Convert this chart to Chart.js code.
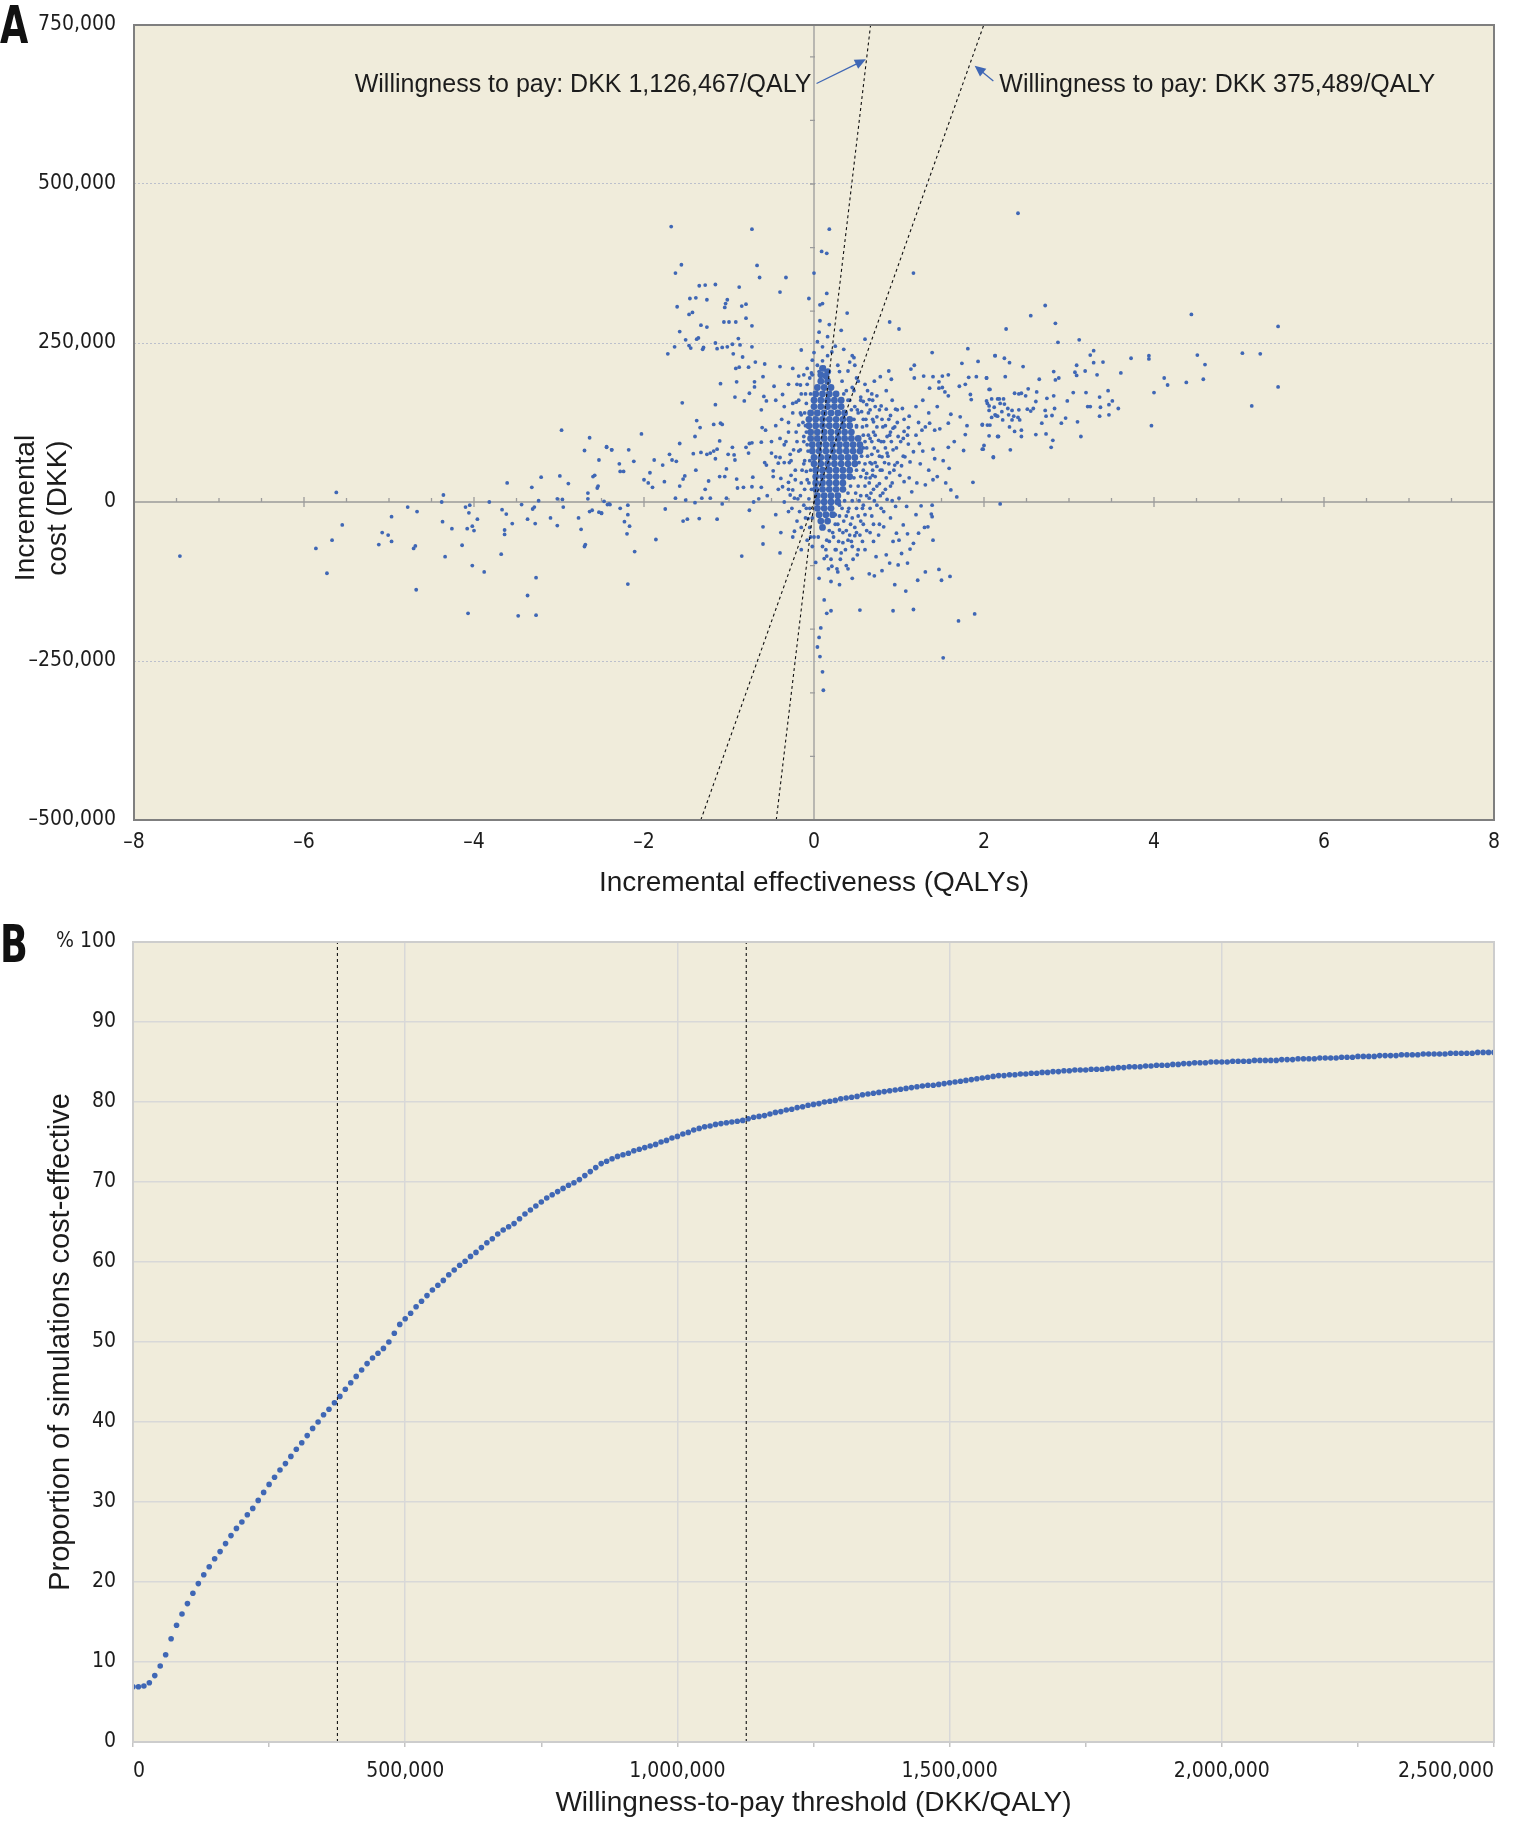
<!DOCTYPE html>
<html>
<head>
<meta charset="utf-8">
<script src="https://cdn.jsdelivr.net/npm/chart.js@4.4.1/dist/chart.umd.min.js"></script>
<style>
  body { margin: 0; background: #fff; }
  #page { position: relative; width: 1515px; height: 1822px; }
  .panel { position: absolute; left: 0; width: 1515px; }
  .tag { position: absolute; left: 0; font-family: 'DejaVu Sans Condensed', 'DejaVu Sans', sans-serif; font-weight: bold; font-stretch: condensed;
         font-size: 52px; line-height: 1; color: #111; transform: scaleX(0.78); transform-origin: 0 0; }
</style>
</head>
<body>
<div id="page">
  <div class="panel" style="top:0;height:905px"><canvas id="planeChart" width="1515" height="905"></canvas></div>
  <div class="panel" style="top:905px;height:917px"><canvas id="ceacChart" width="1515" height="917"></canvas></div>
  <div class="tag" style="top:-1px">A</div>
  <div class="tag" style="top:918px">B</div>
</div>
<script>
// willingness-to-pay thresholds, DKK per QALY
const wtpLow = 375489;
const wtpHigh = 1126467;

// panel A: simulations as [incremental QALYs, incremental cost in 1,000 DKK]
const simulations = [
  [-7.46,-85],[-5.86,-73],[-5.73,-112],[-5.67,-60],[-5.62,15],[-5.55,-36],[-5.12,-67],[-5.08,-48],[-5.01,-52],[-4.97,-62],
  [-4.97,-23],[-4.78,-8],[-4.67,-15],[-4.71,-73],[-4.69,-69],[-4.68,-138],[-4.38,0],[-4.36,11],[-4.37,-31],[-4.34,-86],
  [-4.26,-42],[-4.14,-68],[-4.10,-8],[-4.05,-5],[-4.06,-17],[-4.08,-42],[-4.02,-38],[-4.00,-45],[-3.96,-27],[-4.02,-100],
  [-4.07,-175],[-3.88,-110],[-3.82,0],[-3.67,-12],[-3.62,-19],[-3.64,-44],[-3.64,-51],[-3.61,30],[-3.68,-82],[-3.55,-34],
  [-3.44,-4],[-3.37,-27],[-3.32,23],[-3.31,-11],[-3.29,-8],[-3.28,-34],[-3.24,2],[-3.21,39],[-3.27,-119],[-3.37,-147],
  [-3.48,-179],[-3.27,-178],[-3.10,-25],[-3.02,-37],[-3.02,5],[-2.99,41],[-2.96,4],[-2.95,-8],[-2.97,113],[-2.89,29],
  [-2.77,-25],[-2.74,-43],[-2.70,81],[-2.64,101],[-2.69,-67],[-2.70,-70],[-2.66,5],[-2.66,14],[-2.64,-15],[-2.61,-13],
  [-2.60,40],[-2.58,42],[-2.55,22],[-2.54,25],[-2.53,66],[-2.53,-16],[-2.50,-17],[-2.47,1],[-2.44,86],[-2.43,-4],
  [-2.40,-4],[-2.38,82],
  [-1.56,373],[-1.63,360],[-0.67,372],[-0.64,353],[-0.33,353],[-0.40,330],[-1.35,340],[-1.28,341],[-1.16,342],[-0.88,338],
  [-1.46,320],[-1.39,321],[-1.26,318],[-1.61,307],[-1.04,312],[-1.05,306],[-1.02,318],[-0.85,308],[-0.80,311],[-1.47,295],
  [-1.43,298],[-1.33,278],[-1.26,275],[-1.06,283],[-1.00,283],[-0.92,283],[-0.80,289],[-0.73,277],[-1.58,268],[-1.51,255],
  [-1.38,256],[-1.36,258],[-1.64,244],[-1.72,233],[-1.47,246],[-1.45,242],[-1.31,240],[-1.30,243],[-1.16,250],[-1.14,241],
  [-1.08,243],[-1.02,244],[-0.96,248],[-0.89,257],[-0.87,247],[-0.73,244],[-0.95,233],[-0.84,228],[-0.88,212],[-0.92,210],
  [-0.77,212],[-0.69,220],[-0.58,217],[-0.91,189],[-1.10,186],[-0.70,189],[-0.70,181],[-0.76,171],[-0.60,197],[-0.59,166],
  [-0.56,159],[-0.47,182],[-0.37,169],[-0.40,213],[-0.18,198],[-0.15,239],[-0.16,184],[-0.21,157],[-0.93,165],[-0.82,159],
  [-1.55,156],[-1.16,153],[-1.10,124],[-1.08,122],[-1.38,128],[-1.34,117],[-1.18,122],[-0.62,145],[-0.61,117],[-0.57,113],
  [-2.03,107],[-2.44,87],[-2.38,82],[-2.18,82],[-2.29,60],[-2.28,48],[-2.24,48],[-2.12,64],[-1.88,66],[-1.78,58],
  [-1.93,46],[-2.00,35],[-1.95,30],[-1.90,23],[-1.76,32],[-1.70,75],[-1.67,66],[-1.62,64],[-1.58,92],[-1.58,25],
  [-1.54,36],[-1.52,41],[-1.42,76],[-1.40,103],[-1.39,50],[-1.33,78],[-1.26,75],[-1.22,77],[-1.28,20],[-1.24,33],
  [-1.18,80],[-1.16,68],[-1.14,83],[-1.11,96],[-1.11,40],[-1.05,40],[-1.03,52],[-1.01,75],[-0.96,86],[-0.94,74],
  [-0.93,66],[-0.91,36],[-0.90,22],[-0.83,23],[-0.80,86],[-0.77,77],[-0.76,92],[-0.73,93],[-0.72,39],[-0.73,24],
  [-0.62,94],[-0.62,23],[-0.58,62],[-0.56,58],[-0.50,77],[-0.48,49],[-0.45,71],[-0.42,61],[-0.40,70],[-0.39,37],
  [-0.35,62],[-0.37,24],[-0.30,31],[-0.29,62],[-0.27,42],[-0.25,19],[-0.23,6],[-0.28,11],[-0.24,82],[-0.18,121],
  [-0.16,82],[-0.15,137],[-0.12,103],[-0.11,65],[-0.09,48],
  [-2.50,-18],[-2.41,-3],[-2.28,-10],[-2.19,-5],[-2.19,-20],[-2.23,-31],[-2.17,-38],[-2.20,-50],[-2.11,-78],[-2.19,-129],
  [-1.86,-59],[-1.75,-11],[-1.63,6],[-1.51,3],[-1.54,-30],[-1.49,-27],[-1.35,-26],[-1.40,-1],[-1.32,6],[-1.22,6],
  [-1.14,-27],[-1.08,-3],[-1.03,6],[-0.85,-85],[-0.76,-13],[-0.71,0],[-0.60,-66],[-0.60,-39],[-0.39,-48],[-0.23,-46],
  [-0.17,-15],[-0.09,-10],[-0.07,-26],
  [0.09,394],[0.00,360],[-0.06,320],[0.15,328],[0.10,312],[0.07,310],[0.39,297],[0.07,285],[0.18,279],[0.32,270],
  [0.06,267],[0.16,260],[0.04,252],[0.10,244],[0.21,236],[0.89,283],[1.00,272],[1.17,360],[0.60,256],[0.47,227],
  [0.48,215],[0.40,206],[0.28,215],[0.30,205],[-0.02,223],[-0.03,203],
  [1.81,241],[1.39,235],[2.13,230],[1.93,221],[1.74,218],[1.18,215],[1.14,209],[0.88,206],[0.78,197],[0.91,193],
  [1.29,198],[1.40,197],[1.58,200],[1.51,198],[1.82,196],[1.91,197],[2.03,195],[1.71,182],[1.78,185],[1.47,189],
  [1.18,195],[1.36,179],[1.47,179],[1.51,180],[1.54,173],[1.58,167],[1.84,169],[1.85,161],[2.06,177],[2.16,162],
  [2.04,155],[2.14,136],[2.17,103],[2.07,121],[1.98,121],[1.80,120],[1.78,106],[1.72,134],[1.61,138],[1.58,124],
  [1.48,115],[1.42,113],[1.36,124],[1.31,118],[1.27,113],[1.23,125],[1.20,105],[1.11,117],[1.06,111],[1.04,147],
  [0.96,146],[0.90,136],[0.85,146],[0.79,151],[0.74,167],[0.68,170],[0.65,161],[0.62,153],[0.58,158],[0.56,142],
  [0.74,134],[0.70,126],[0.93,116],[0.99,103],[0.86,103],[0.76,97],[1.11,91],[1.24,92],[1.40,83],[1.58,86],
  [1.65,95],[1.76,81],[1.99,83],[2.11,71],[1.87,31],[1.68,8],[1.61,19],[1.42,68],[1.52,65],[1.59,53],
  [1.40,35],[1.31,27],[1.28,80],[1.17,79],[1.13,63],[1.07,71],[1.03,57],[0.95,58],[0.93,82],[0.86,77],
  [0.80,71],[0.74,56],[0.69,42],[0.77,29],[0.89,46],[1.01,42],[1.06,32],[1.21,30],[1.15,16],[1.00,6],
  [0.86,4],[0.65,6],
  [0.96,-7],[1.09,-7],[1.26,-6],[1.39,-5],[1.39,-23],[1.34,-39],[1.40,-60],[1.38,-19],[1.60,-117],[1.50,-123],
  [1.47,-106],[1.31,-110],[1.22,-123],[1.23,-49],[1.17,-65],[1.13,-74],[1.10,-96],[1.03,-81],[0.99,-99],[0.89,-96],
  [0.85,-83],[0.93,-62],[0.97,-49],[1.05,-36],[0.82,-39],[0.76,-52],[0.70,-62],[0.73,-86],[0.80,-108],[0.65,-113],
  [0.71,-116],[0.51,-83],[0.54,-52],[0.48,-53],[0.42,-52],[0.34,-64],[0.30,-44],[0.23,-55],[0.21,-101],[0.15,-85],
  [0.12,-89],[0.10,-70],[0.06,-120],[0.12,-154],[0.20,-171],[0.15,-175],[0.08,-198],[0.06,-213],[0.93,-171],[1.17,-169],
  [1.70,-187],[1.89,-176],
  [0.18,429],[0.15,391],[-0.73,429],[-1.68,433],[0.11,-296],[0.10,-267],[0.07,-243],[1.52,-245],[0.54,-170],[0.04,-228],
  [-0.25,140],[-0.30,110],[-0.20,95],[-0.28,75],[-0.22,50],[-0.15,30],[-0.30,20],[-0.12,-5],[-0.20,-30],[-0.10,170],
  [-0.05,195],[-0.18,160],[0.45,180],[0.50,195],[0.55,165],[0.60,185],[0.42,220],[0.52,140],[0.62,120],[0.66,100],
  [0.60,60],[0.65,30],[0.55,10],[0.50,-10],[0.45,-25],[0.60,-20],[0.35,-30],[0.38,-45],[0.25,-20],[0.30,-5],
  [0.58,85],[0.62,45],[0.45,230],[0.35,240],[0.25,245],[0.00,235],[-0.08,210],[0.70,110],[0.68,75],[0.55,40],
  [0.40,-15],[0.28,-35],[0.18,-45],[0.05,-55],[0.15,-60],[0.25,-75],[-0.05,-40],[-0.02,-70],[0.02,-95],
  [0.35,170],[0.42,160],[0.48,150],[0.58,130],[0.50,120],[0.64,140],[0.72,150],[0.80,130],[0.84,120],[0.90,110],
  [0.98,125],[0.82,95],[0.75,80],[0.68,60],[0.72,40],[0.80,50],[0.88,60],[0.92,30],[0.84,20],[0.78,10],
  [0.70,20],[0.62,10],[0.58,-5],[0.66,-10],[0.74,-5],[0.82,-15],[0.90,-25],[0.70,-35],[0.62,-45],[0.55,-30],
  [0.48,-40],[0.40,-60],[0.32,-80],[0.45,-70],[0.60,-75],[0.38,-100],[0.28,-110],[0.20,-125],[0.30,-130],[0.45,-120],
  [1.05,100],[1.12,135],[1.20,150],[1.28,160],[1.35,140],[1.45,150],[1.25,60],[1.35,50],[1.45,40],[1.55,30],
  [1.20,-20],[1.30,-40],[1.10,-50],[1.00,-60],[0.95,-130],[1.08,-140],
  [-0.35,150],[-0.45,120],[-0.40,100],[-0.35,90],[-0.48,40],[-0.42,20],[-0.35,0],[-0.30,-15],[-0.45,-20],[-0.55,10],
  [-0.65,5],[-0.50,95],[-0.38,130],[-0.30,185],[-0.25,210],[-0.45,160],[-0.10,120],[-0.08,90],[-0.12,60],[-0.06,30],
  [-0.16,10],[-0.08,-60],[-0.15,-75],[-0.25,-55],[-0.40,-80],
  [0.06,205],[0.12,212],[0.18,205],[0.10,222],[0.16,230],[0.04,215],
  [0.33,190],[0.52,190],[0.71,190],[0.38,175],[0.47,175],[0.63,175],[0.85,175],[0.40,160],[0.55,160],[0.69,160],
  [0.92,160],[0.44,145],[0.51,145],[0.66,145],[0.77,145],[0.98,145],[0.47,130],[0.61,130],[0.69,130],[0.88,130],
  [1.06,130],[0.50,118],[0.57,118],[0.74,118],[0.81,118],[0.95,118],[0.58,105],[0.64,105],[0.72,105],[0.89,105],
  [1.10,105],[0.60,95],[0.68,95],[0.79,95],[0.91,95],[1.02,95],[0.62,85],[0.71,85],[0.84,85],[0.97,85],
  [0.56,72],[0.63,72],[0.77,72],[0.87,72],[1.05,72],[0.53,62],[0.66,62],[0.72,62],[0.83,62],[0.98,62],
  [0.50,50],[0.58,50],[0.69,50],[0.78,50],[0.94,50],[0.47,38],[0.61,38],[0.66,38],[0.85,38],[1.12,38],
  [0.43,25],[0.52,25],[0.60,25],[0.74,25],[0.90,25],[0.40,14],[0.49,14],[0.67,14],[0.81,14],[0.36,2],
  [0.45,2],[0.53,2],[0.71,2],[0.92,2],[0.33,-10],[0.41,-10],[0.57,-10],[0.79,-10],[0.30,-22],[0.38,-22],
  [0.52,-22],[0.68,-22],[0.25,-35],[0.43,-35],[0.58,-35],[0.77,-35],[0.22,-48],[0.34,-48],[0.50,-48],[0.66,-48],
  [0.18,-62],[0.29,-62],[0.44,-62],[0.57,-62],[0.14,-75],[0.26,-75],[0.37,-75],[0.52,-75],[0.20,-90],[0.31,-90],
  [0.46,-90],[0.17,-105],[0.27,-105],[0.40,-105],
  [-0.12,200],[-0.02,200],[-0.20,185],[-0.08,185],[-0.15,170],[-0.04,170],[-0.25,155],[-0.09,155],[-0.16,140],[-0.11,140],
  [-0.30,125],[-0.13,125],[-0.21,110],[-0.09,110],[-0.33,95],[-0.12,95],[-0.18,80],[-0.07,80],[-0.27,65],[-0.05,65],
  [-0.14,50],[-0.04,50],[-0.22,35],[-0.08,35],[-0.11,20],[-0.03,20],[-0.19,5],[-0.06,5],[-0.05,-10],[-0.26,-10],
  [-0.10,-25],[-0.02,-25],[-0.15,-40],[0.00,-55],[-0.04,-55],
  [2.40,454],[2.72,309],[2.55,293],[2.84,281],[2.26,272],[2.87,251],[3.12,255],[4.44,295],[5.46,276],[2.13,230],
  [2.24,226],[2.30,219],[2.03,195],[2.25,197],[2.46,213],[2.07,177],[2.65,193],[2.82,205],[2.84,192],[2.88,195],
  [3.09,215],[3.07,204],[3.09,199],[3.19,206],[3.25,231],[3.29,238],[3.29,219],[3.40,220],[3.33,200],[3.61,203],
  [3.73,226],[3.94,230],[3.94,225],[4.12,195],[4.16,184],[4.38,188],[4.51,231],[4.60,216],[4.58,193],[5.04,234],
  [5.25,233],[5.46,181],[5.15,151],[4.00,172],[3.97,120],[3.58,147],[3.47,137],[3.51,159],[3.47,153],[3.46,175],
  [3.36,165],[3.37,149],[3.36,135],[3.25,150],[3.22,150],[3.20,172],[3.14,103],[3.10,126],[3.05,172],[2.98,159],
  [2.96,132],[2.91,124],[2.82,167],[2.83,147],[2.80,136],[2.81,97],[2.79,86],[2.73,135],[2.73,107],[2.74,163],
  [2.72,144],[2.68,124],[2.62,173],[2.61,106],[2.61,158],[2.58,147],[2.55,143],[2.51,146],[2.52,178],[2.49,167],
  [2.44,171],[2.44,113],[2.44,103],[2.41,170],[2.41,145],[2.40,133],[2.42,129],[2.36,111],[2.36,171],[2.35,135],
  [2.33,144],[2.33,129],[2.31,82],[2.30,118],[2.29,137],[2.28,147],[2.24,154],[2.23,162],[2.22,129],[2.21,142],
  [2.19,155],[2.18,162],[2.16,135],[2.16,103],[2.13,137],[2.12,149],[2.11,70],[2.09,133],[2.09,162],[2.06,144],
  [2.06,151],[2.06,104],[2.04,121],[2.03,159],[2.00,89],[1.98,83],[1.98,122],[2.19,-3]
];

// the solid blue centre of the cloud, read as a coarse set of points
const denseCore = [
  [0.10,210],[0.16,205],
  [0.08,200],[0.14,198],
  [0.08,190],[0.16,190],
  [0.04,180],[0.12,180],[0.20,180],
  [0.02,170],[0.10,170],[0.18,170],[0.26,170],
  [0.00,160],[0.08,160],[0.16,160],[0.24,160],[0.32,160],
  [0.00,150],[0.08,150],[0.16,150],[0.24,150],[0.32,150],
  [-0.04,140],[0.04,140],[0.12,140],[0.20,140],[0.28,140],[0.36,140],
  [-0.06,130],[0.02,130],[0.10,130],[0.18,130],[0.26,130],[0.34,130],[0.42,130],
  [-0.06,120],[0.02,120],[0.10,120],[0.18,120],[0.26,120],[0.34,120],[0.42,120],
  [-0.04,110],[0.04,110],[0.12,110],[0.20,110],[0.28,110],[0.36,110],[0.44,110],
  [-0.04,100],[0.04,100],[0.12,100],[0.20,100],[0.28,100],[0.36,100],[0.44,100],[0.52,100],
  [-0.02,90],[0.06,90],[0.14,90],[0.22,90],[0.30,90],[0.38,90],[0.46,90],[0.54,90],
  [-0.02,80],[0.06,80],[0.14,80],[0.22,80],[0.30,80],[0.38,80],[0.46,80],[0.54,80],
  [0.00,70],[0.08,70],[0.16,70],[0.24,70],[0.32,70],[0.40,70],[0.48,70],
  [0.00,60],[0.08,60],[0.16,60],[0.24,60],[0.32,60],[0.40,60],[0.48,60],
  [0.02,50],[0.10,50],[0.18,50],[0.26,50],[0.34,50],[0.42,50],
  [0.02,40],[0.10,40],[0.18,40],[0.26,40],[0.34,40],[0.42,40],
  [0.02,30],[0.10,30],[0.18,30],[0.26,30],[0.34,30],
  [0.02,20],[0.10,20],[0.18,20],[0.26,20],[0.34,20],
  [0.04,10],[0.12,10],[0.20,10],[0.28,10],
  [0.04,0],[0.12,0],[0.20,0],[0.28,0],
  [0.04,-10],[0.12,-10],[0.20,-10],
  [0.06,-20],[0.14,-20],[0.22,-20],
  [0.08,-30],[0.16,-30],
  [0.10,-40]
];

const effectTicks = [-8, -6, -4, -2, 0, 2, 4, 6, 8];
const costTicks = [-500000, -250000, 0, 250000, 500000, 750000];

// panel B: acceptability curve, one value per 10,000 DKK from 0 to 2,500,000
const thresholdStep = 10000;
const probCostEffective = [
  6.9, 6.9, 7.0, 7.4, 8.3, 9.5, 10.9, 12.9, 14.6, 16.0,
  17.3, 18.6, 19.8, 20.9, 21.9, 22.9, 23.8, 24.8, 25.8, 26.7,
  27.5, 28.4, 29.2, 30.2, 31.2, 32.2, 33.1, 34.0, 34.8, 35.7,
  36.6, 37.4, 38.3, 39.2, 40.0, 40.9, 41.6, 42.4, 43.2, 44.1,
  44.9, 45.7, 46.5, 47.3, 48.0, 48.6, 49.2, 50.0, 51.1, 52.2,
  52.9, 53.6, 54.4, 55.1, 55.8, 56.5, 57.1, 57.7, 58.4, 59.0,
  59.6, 60.1, 60.7, 61.2, 61.8, 62.4, 62.9, 63.5, 64.0, 64.4,
  64.8, 65.4, 66.0, 66.5, 67.0, 67.5, 68.0, 68.4, 68.8, 69.2,
  69.6, 69.9, 70.3, 70.8, 71.3, 71.8, 72.3, 72.6, 72.9, 73.2,
  73.4, 73.6, 73.9, 74.1, 74.3, 74.5, 74.7, 75.0, 75.2, 75.5,
  75.7, 76.0, 76.2, 76.5, 76.7, 76.9, 77.0, 77.2, 77.3, 77.4,
  77.5, 77.6, 77.7, 77.9, 78.1, 78.2, 78.3, 78.5, 78.7, 78.8,
  79.0, 79.1, 79.3, 79.4, 79.6, 79.7, 79.8, 80.0, 80.1, 80.2,
  80.4, 80.5, 80.6, 80.7, 80.9, 81.0, 81.1, 81.2, 81.3, 81.4,
  81.5, 81.6, 81.7, 81.8, 81.9, 82.0, 82.1, 82.1, 82.2, 82.3,
  82.4, 82.5, 82.6, 82.7, 82.8, 82.9, 83.0, 83.1, 83.2, 83.3,
  83.3, 83.4, 83.4, 83.5, 83.5, 83.6, 83.6, 83.7, 83.7, 83.8,
  83.8, 83.9, 83.9, 84.0, 84.0, 84.0, 84.1, 84.1, 84.1, 84.2,
  84.2, 84.3, 84.3, 84.4, 84.4, 84.4, 84.5, 84.5, 84.6, 84.6,
  84.6, 84.7, 84.7, 84.8, 84.8, 84.9, 84.9, 84.9, 85.0, 85.0,
  85.0, 85.0, 85.1, 85.1, 85.1, 85.1, 85.2, 85.2, 85.2, 85.2,
  85.2, 85.3, 85.3, 85.3, 85.4, 85.4, 85.4, 85.4, 85.5, 85.5,
  85.5, 85.5, 85.6, 85.6, 85.6, 85.7, 85.7, 85.7, 85.7, 85.8,
  85.8, 85.8, 85.8, 85.9, 85.9, 85.9, 85.9, 86.0, 86.0, 86.0,
  86.0, 86.0, 86.1, 86.1, 86.1, 86.1, 86.1, 86.2, 86.2, 86.2, 86.2
];

const thresholdTicks = [0, 500000, 1000000, 1500000, 2000000, 2500000];
const thresholdMinorTicks = [250000, 750000, 1250000, 1750000, 2250000];
const percentTicks = [0, 10, 20, 30, 40, 50, 60, 70, 80, 90, 100];

const cream = '#f0ecdb';
const dotBlue = '#3f67b5';
const ink = '#1c1c1c';
const narrow = "'DejaVu Sans Condensed', 'Liberation Sans Narrow', 'DejaVu Sans', sans-serif";
const plain = "'Liberation Sans', Arial, sans-serif";
const tickFont = { family: narrow, size: 21 };

const fmt = v => (v < 0 ? '\u2013' : '') + Math.abs(v).toLocaleString('en-US');

// ---------- panel A ----------
const notes = [
  { text: 'Willingness to pay: DKK 1,126,467/QALY', at: [-0.03, 656000], align: 'right', from: [0.03, 658000], to: [0.61, 696000] },
  { text: 'Willingness to pay: DKK 375,489/QALY', at: [2.18, 656000], align: 'left', from: [2.11, 662000], to: [1.89, 686000] }
];

const planeDecor = {
  id: 'planeDecor',
  beforeDraw(chart) {
    const { ctx, chartArea: a } = chart;
    ctx.save();
    ctx.fillStyle = cream;
    ctx.fillRect(a.left, a.top, a.width, a.height);
    ctx.restore();
  },
  beforeDatasetsDraw(chart) {
    const { ctx, chartArea: a, scales: { x, y } } = chart;
    const x0 = x.getPixelForValue(0), y0 = y.getPixelForValue(0);
    ctx.save();
    ctx.strokeStyle = '#9b9b9b';
    ctx.lineWidth = 1.3;
    ctx.beginPath();
    ctx.moveTo(a.left, y0); ctx.lineTo(a.right, y0);
    ctx.moveTo(x0, a.top); ctx.lineTo(x0, a.bottom);
    for (let v = -7.5; v < 8; v += 0.5) {
      const px = x.getPixelForValue(v);
      if (v % 2 === 0) { ctx.moveTo(px, y0 - 5); ctx.lineTo(px, y0 + 5); }
      else { ctx.moveTo(px, y0 - 4); ctx.lineTo(px, y0); }
    }
    for (let v = -400000; v < 750000; v += 100000) {
      const py = y.getPixelForValue(v);
      ctx.moveTo(x0 - 4, py); ctx.lineTo(x0 + 1, py);
    }
    ctx.stroke();
    ctx.restore();
  },
  afterDatasetsDraw(chart) {
    const { ctx, chartArea: a, scales: { x, y } } = chart;
    ctx.save();
    ctx.strokeStyle = '#7f7f7f';
    ctx.lineWidth = 2;
    ctx.strokeRect(a.left, a.top, a.width, a.height);

    ctx.font = '25px ' + plain;
    ctx.textBaseline = 'middle';
    notes.forEach(n => {
      ctx.fillStyle = ink;
      ctx.textAlign = n.align;
      ctx.fillText(n.text, x.getPixelForValue(n.at[0]), y.getPixelForValue(n.at[1]));
      const sx = x.getPixelForValue(n.from[0]), sy = y.getPixelForValue(n.from[1]);
      const ex = x.getPixelForValue(n.to[0]), ey = y.getPixelForValue(n.to[1]);
      const ang = Math.atan2(ey - sy, ex - sx);
      const c = Math.cos(ang), s = Math.sin(ang);
      ctx.strokeStyle = dotBlue;
      ctx.fillStyle = dotBlue;
      ctx.lineWidth = 1.3;
      ctx.beginPath();
      ctx.moveTo(sx, sy); ctx.lineTo(ex - 8 * c, ey - 8 * s);
      ctx.stroke();
      ctx.beginPath();
      ctx.moveTo(ex, ey);
      ctx.lineTo(ex - 11 * c + 5 * s, ey - 11 * s - 5 * c);
      ctx.lineTo(ex - 11 * c - 5 * s, ey - 11 * s + 5 * c);
      ctx.closePath();
      ctx.fill();
    });

    // y axis title, two lines, sits a little below the axis centre
    ctx.translate(26, 508);
    ctx.rotate(-Math.PI / 2);
    ctx.font = '28px ' + plain;
    ctx.textAlign = 'center';
    ctx.fillStyle = ink;
    ctx.fillText('Incremental', 0, 0);
    ctx.fillText('cost (DKK)', 0, 32);
    ctx.restore();
  }
};

const wtpLine = wtp => ({
  data: [{ x: -500000 / wtp, y: -500000 }, { x: 750000 / wtp, y: 750000 }],
  showLine: true, borderColor: '#111', borderWidth: 1.1, borderDash: [3, 3],
  pointRadius: 0, order: 0
});

new Chart(document.getElementById('planeChart'), {
  type: 'scatter',
  data: {
    datasets: [
      wtpLine(wtpHigh),
      wtpLine(wtpLow),
      {
        data: simulations.map(p => ({ x: p[0], y: p[1] * 1000 })),
        backgroundColor: dotBlue, borderWidth: 0, pointRadius: 1.9, order: 2
      },
      {
        data: denseCore.map(p => ({ x: p[0], y: p[1] * 1000 })),
        backgroundColor: dotBlue, borderWidth: 0, pointRadius: 3.4, order: 1
      }
    ]
  },
  options: {
    responsive: false,
    animation: false,
    events: [],
    layout: { padding: { top: 25, right: 21, left: 0, bottom: 0 } },
    plugins: { legend: { display: false }, tooltip: { enabled: false } },
    scales: {
      x: {
        type: 'linear', min: -8, max: 8,
        afterBuildTicks: s => { s.ticks = effectTicks.map(v => ({ value: v })); },
        afterFit: s => { s.height = 85; s.paddingLeft = 0; s.paddingRight = 0; },
        grid: { display: false },
        border: { display: false },
        ticks: { font: tickFont, color: ink, padding: 2, maxRotation: 0, autoSkip: false, callback: v => fmt(v) },
        title: { display: true, text: 'Incremental effectiveness (QALYs)', color: ink,
                 font: { family: plain, size: 28, lineHeight: 1.14 }, padding: { top: 0, bottom: 6 } }
      },
      y: {
        type: 'linear', min: -500000, max: 750000,
        afterBuildTicks: s => { s.ticks = costTicks.map(v => ({ value: v })); },
        afterFit: s => { s.width = 134; s.paddingTop = 0; s.paddingBottom = 0; },
        grid: {
          drawTicks: false, lineWidth: 1,
          color: c => (c.tick && [250000, 500000, -250000].includes(c.tick.value)) ? '#bcc0cc' : 'transparent'
        },
        border: { display: false, dash: [2, 2] },
        ticks: { font: tickFont, color: ink, padding: 18, autoSkip: false, callback: v => fmt(v) }
      }
    }
  },
  plugins: [planeDecor]
});

// ---------- panel B ----------
const ceacDecor = {
  id: 'ceacDecor',
  beforeDraw(chart) {
    const { ctx, chartArea: a } = chart;
    ctx.save();
    ctx.fillStyle = cream;
    ctx.fillRect(a.left, a.top, a.width, a.height);
    ctx.restore();
  },
  afterDraw(chart) {
    const { ctx, chartArea: a } = chart;
    ctx.save();
    ctx.strokeStyle = '#cdcdcd';
    ctx.lineWidth = 2;
    ctx.strokeRect(a.left, a.top, a.width, a.height);
    ctx.restore();
  }
};

const vLine = wtp => ({
  data: [{ x: wtp, y: 0 }, { x: wtp, y: 100 }],
  showLine: true, borderColor: '#111', borderWidth: 1.1, borderDash: [3, 3],
  pointRadius: 0
});

new Chart(document.getElementById('ceacChart'), {
  type: 'scatter',
  data: {
    datasets: [
      vLine(wtpLow),
      vLine(wtpHigh),
      {
        data: probCostEffective.map((p, i) => ({ x: i * thresholdStep, y: p })),
        backgroundColor: dotBlue, borderWidth: 0, pointRadius: 2.8
      }
    ]
  },
  options: {
    responsive: false,
    animation: false,
    events: [],
    layout: { padding: { top: 37, right: 21, left: 0, bottom: 0 } },
    plugins: { legend: { display: false }, tooltip: { enabled: false } },
    scales: {
      x: {
        type: 'linear', min: 0, max: 2500000,
        afterBuildTicks: s => {
          s.ticks = thresholdTicks.concat(thresholdMinorTicks).sort((a, b) => a - b).map(v => ({ value: v }));
        },
        afterFit: s => { s.height = 80; s.paddingLeft = 0; s.paddingRight = 0; },
        grid: {
          lineWidth: 1.5, tickLength: 5, tickColor: '#c4c4c4',
          color: c => (c.tick && thresholdTicks.includes(c.tick.value)) ? '#d8d8d8' : 'transparent'
        },
        border: { display: false },
        ticks: { font: tickFont, color: ink, padding: 12, maxRotation: 0, autoSkip: false, align: 'inner',
                 callback: v => thresholdTicks.includes(v) ? fmt(v) : '' },
        title: { display: true, text: 'Willingness-to-pay threshold (DKK/QALY)', color: ink,
                 font: { family: plain, size: 28, lineHeight: 1.14 }, padding: { top: 0, bottom: 3 } }
      },
      y: {
        type: 'linear', min: 0, max: 100,
        afterBuildTicks: s => { s.ticks = percentTicks.map(v => ({ value: v })); },
        afterFit: s => { s.width = 133; s.paddingTop = 0; s.paddingBottom = 0; },
        grid: { drawTicks: false, lineWidth: 1.5, color: '#d8d8d8' },
        border: { display: false },
        ticks: { font: tickFont, color: ink, padding: 17, autoSkip: false,
                 callback: v => v === 100 ? '% 100' : String(v) },
        title: { display: true, text: 'Proportion of simulations cost-effective', color: ink,
                 font: { family: plain, size: 29, lineHeight: 1.14 }, padding: { top: 44, bottom: 0 } }
      }
    }
  },
  plugins: [ceacDecor]
});
</script>
</body>
</html>
